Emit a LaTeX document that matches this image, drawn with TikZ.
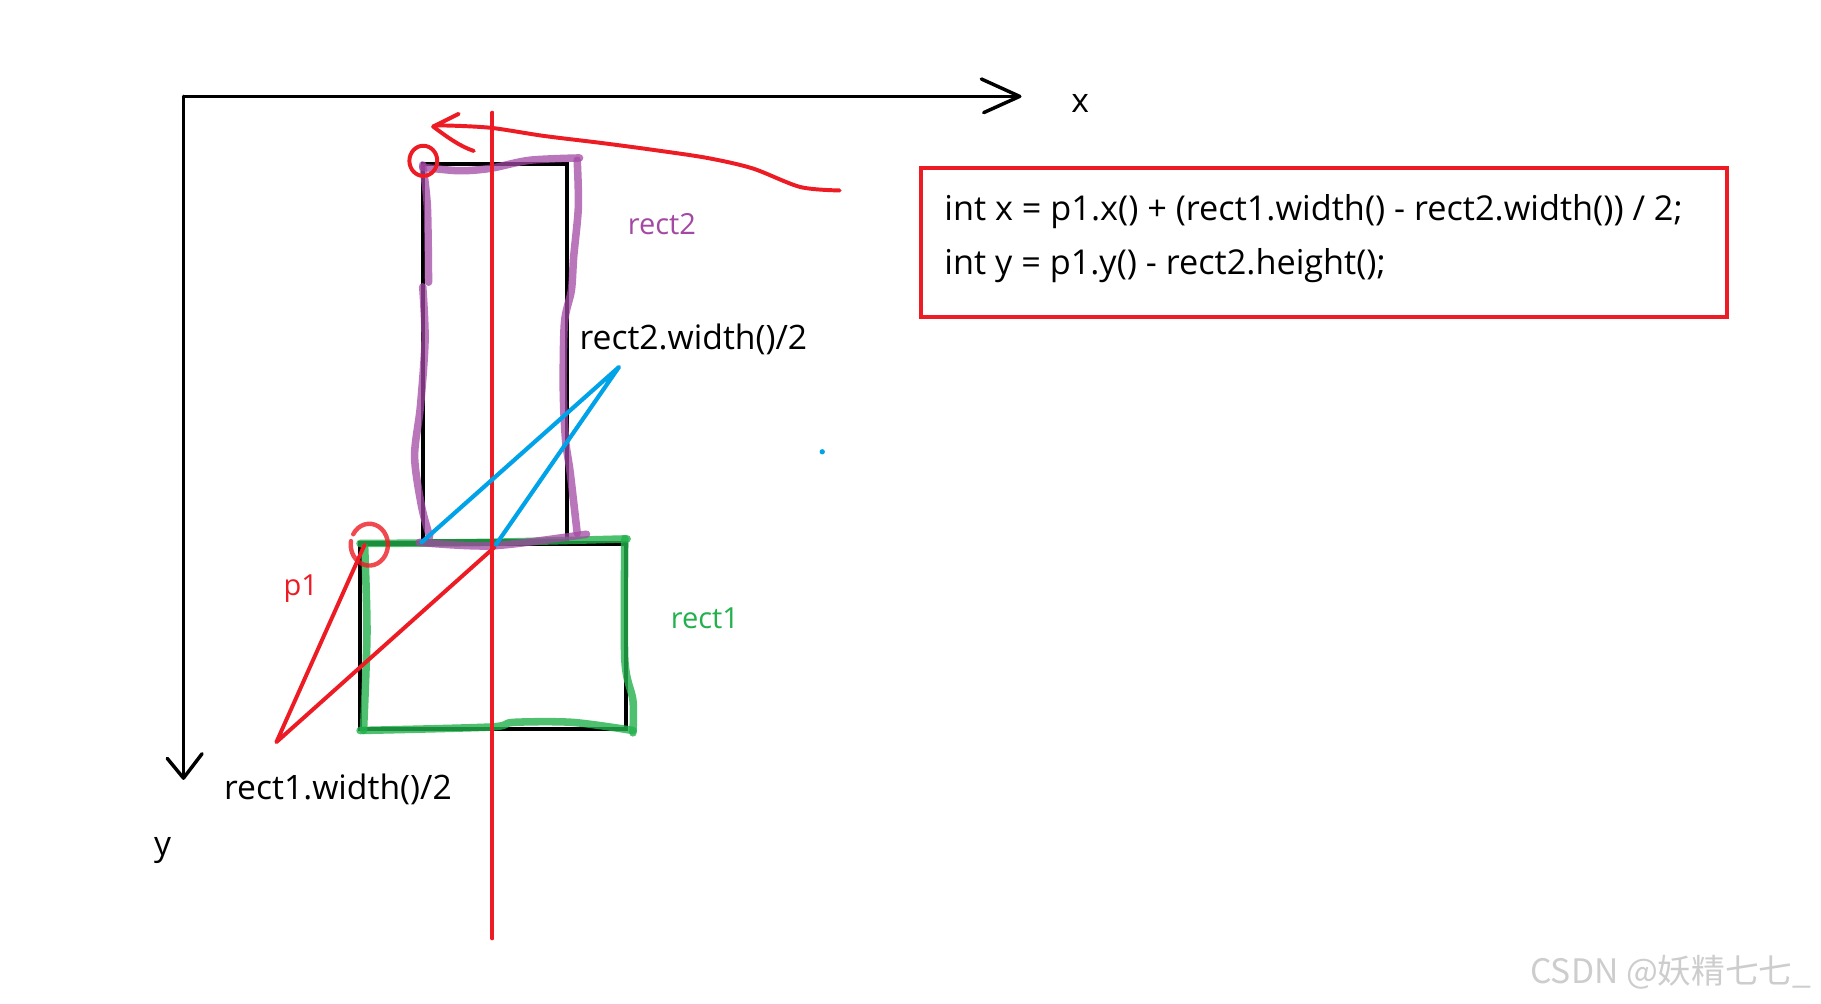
\documentclass[tikz,border=0pt]{standalone}
\usepackage{fontspec}
\setmainfont{Open Sans}
\newfontfamily\cjk{Noto Sans CJK SC}
\definecolor{pred}{RGB}{237,28,36}
\definecolor{ppurple}{RGB}{163,73,164}
\definecolor{pgreen}{RGB}{34,177,76}
\definecolor{pblue}{RGB}{0,162,232}
\definecolor{wmgray}{RGB}{205,205,205}
\begin{document}
\begin{tikzpicture}[x=1pt,y=-1pt,
  axis/.style={line width=3pt, black, line cap=round, line join=round},
  blackbox/.style={line width=3.5pt, black},
  redpen/.style={line width=3.4pt, pred, line cap=round, line join=round},
  bluepen/.style={line width=3.6pt, pblue, line cap=round, line join=round},
  purplepen/.style={line width=6.5pt, ppurple, opacity=0.75, line cap=round, line join=round},
  greenpen/.style={line width=6.5pt, pgreen, opacity=0.8, line cap=round, line join=round},
  lbl/.style={font=\fontsize{29}{34}\selectfont, inner sep=0pt},
  smalllbl/.style={font=\fontsize{25}{30}\selectfont, inner sep=0pt},
  codetext/.style={font=\fontsize{29.5}{34}\selectfont, inner sep=0pt},
]
\useasboundingbox (0,0) rectangle (1568,864);
\fill[white] (0,0) rectangle (1568,864);

% axes
\coordinate (O) at (158,83);
\coordinate (xend) at (878,83);
\coordinate (yend) at (158,670);
\draw[axis] (O) -- (xend);
\draw[axis] (O) -- (yend);
\draw[axis] (845,68) -- (xend) -- (847,97);
\draw[axis] (144,653) -- (yend) -- (174,649);
\node[lbl, anchor=base] (xlabel) at (930,97) {x};
\node[lbl, anchor=base] (ylabel) at (140,737) {y};

% black rectangles
\draw[blackbox] (364,141) rectangle (488,466);
\draw[blackbox] (310,468) rectangle (539,628);

% green highlight over rect1
\draw[greenpen] plot[smooth] coordinates {(310,468) (420,467) (540,464)};
\draw[greenpen] plot[smooth] coordinates {(538,464) (538,568) (545,603) (545,631)};
\draw[greenpen] plot[smooth] coordinates {(310,629) (422,626) (442,622) (493,622) (545,629)};
\draw[greenpen] plot[smooth] coordinates {(314,471) (316,545) (313,629)};

% purple highlight over rect2
\draw[purplepen] plot[smooth] coordinates {(364,144) (395,147) (422,145) (456,138) (499,136)};
\draw[purplepen] plot[smooth] coordinates {(364,142) (368,178) (369,243)};
\draw[purplepen] plot[smooth] coordinates {(364,247) (366,293) (362,350) (357,393) (363,436) (370,462)};
\draw[purplepen] plot[smooth] coordinates {(497,138) (498,178) (494,221) (492,250) (486,278) (485,336) (487,379) (491,407) (497,459)};
\draw[purplepen] plot[smooth] coordinates {(361,467) (424,470) (505,460)};

% red centre line
\coordinate (ctop) at (424,97);
\coordinate (cbot) at (424,808);
\draw[redpen] (ctop) -- (cbot);

% red arrow towards the top-left corner
\coordinate (tip) at (373,109);
\draw[redpen] plot[smooth] coordinates {(723,164) (689,161) (648,145) (609,136) (562,129) (517,123) (468,117) (422,110) (381,108) (373,109)};
\draw[redpen] (395,98) -- (tip) .. controls (385,118) and (396,126) .. (408,130);

% red circles
\draw[redpen] (364.5,138.5) ellipse (12 and 13);
\draw[redpen, opacity=0.8, line width=3.8pt] (318,468) ++(-150:16) arc (-150:190:16 and 18);

% red triangle
\coordinate (p1) at (314,469);
\coordinate (q) at (238,639);
\coordinate (m) at (426,471);
\draw[redpen] (p1) -- (q) -- (m);

% blue triangle
\coordinate (b1) at (363,467);
\coordinate (apex) at (533,316);
\coordinate (b2) at (427,469);
\draw[bluepen] (b1) -- (apex) -- (b2);
\fill[pblue] (708,389) circle (2.3);

% labels
\node[smalllbl, anchor=base, text=ppurple] (lrect2) at (570,202) {rect2};
\node[lbl, anchor=base] (lw2) at (597,301) {rect2.width()/2};
\node[smalllbl, anchor=base, text=pred] (lp1) at (259,513) {p1};
\node[smalllbl, anchor=base, text=pgreen] (lrect1) at (607,541) {rect1};
\node[lbl, anchor=base] (lw1) at (291,688) {rect1.width()/2};

% code box
\node[draw=pred, line width=3.5pt, minimum width=694pt, minimum height=128pt, inner sep=0pt] (code) at (1140,209) {};
\node[codetext, anchor=base west] (line1) at (813,190) {int x = p1.x() + (rect1.width() - rect2.width()) / 2;};
\node[codetext, anchor=base west] (line2) at (813,236) {int y = p1.y() - rect2.height();};

% watermark
\node[inner sep=0pt, anchor=base east, text=wmgray, font=\cjk\fontsize{29}{32}\selectfont] (wm) at (1560,847) {CSDN @妖精七七\_};
\end{tikzpicture}
\end{document}
